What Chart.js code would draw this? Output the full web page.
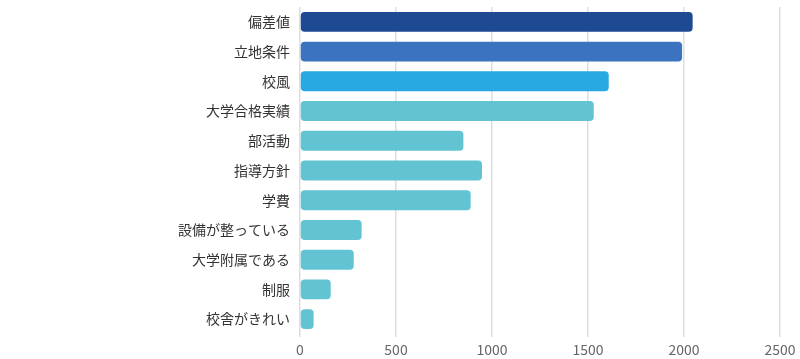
<!DOCTYPE html>
<html>
<head>
<meta charset="utf-8">
<script src="https://cdn.jsdelivr.net/npm/chart.js@4/dist/chart.umd.min.js"></script>
<style>
  html, body { margin: 0; padding: 0; background: #fff; }
  #wrap { width: 800px; height: 359px; }
</style>
</head>
<body>
<div id="wrap"><canvas id="iChart"></canvas></div>
<script>
// 項目と件数
var labels = ['偏差値', '立地条件', '校風', '大学合格実績', '部活動', '指導方針', '学費', '設備が整っている', '大学附属である', '制服', '校舎がきれい'];
var counts = [2045, 1990, 1608, 1530, 851, 948, 889, 321, 280, 160, 71];
var barColors = ['#1d4a93', '#3a73bf', '#29a9e1', '#62c4d3', '#62c4d3', '#62c4d3', '#62c4d3', '#62c4d3', '#62c4d3', '#62c4d3', '#62c4d3'];
var xTicks = [0, 500, 1000, 1500, 2000, 2500];

var font = "'Noto Sans CJK JP', 'Noto Sans', sans-serif";

var ctx = document.getElementById('iChart').getContext('2d');
var iChart = new Chart(ctx, {
    type: 'bar',
    data: {
        labels: labels,
        datasets: [
            { data: counts, backgroundColor: barColors, borderRadius: 4, borderSkipped: false,
              categoryPercentage: 0.67, barPercentage: 1 }
        ]
    },
    options: {
        indexAxis: 'y',
        responsive: true,
        maintainAspectRatio: false,
        animation: false,
        layout: { padding: { top: 7, right: 20, left: 0, bottom: 0 } },
        plugins: { legend: { display: false }, tooltip: { enabled: false } },
        scales: {
            x: {
                min: 0, max: 2500,
                afterBuildTicks: function (s) { s.ticks = xTicks.map(function (v) { return { value: v }; }); },
                afterFit: function (s) { s.height = 25; },
                grid: { color: '#dedede', lineWidth: 1.5, drawTicks: true, tickLength: 3 },
                border: { display: false },
                ticks: { color: '#666', font: { family: font, size: 14 }, padding: 4,
                         callback: function (v) { return String(v); } }
            },
            y: {
                grid: { display: false, drawTicks: false },
                border: { display: false },
                afterFit: function (s) { s.width = 300; s.paddingTop = 0; s.paddingBottom = 0; },
                ticks: { color: '#333', font: { family: font, size: 14 }, padding: 10 }
            }
        }
    }
});
</script>
</body>
</html>
